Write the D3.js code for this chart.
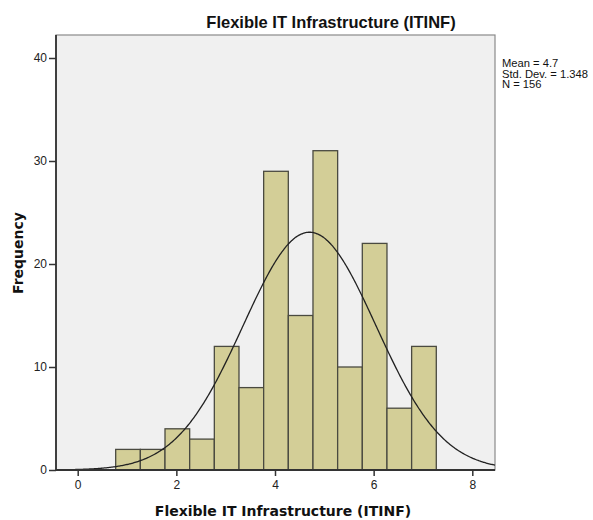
<!DOCTYPE html>
<html><head><meta charset="utf-8">
<script src="https://cdn.jsdelivr.net/npm/d3@7"></script>
<style>body{margin:0;background:#fff}</style>
</head><body>
<svg id="c" width="593" height="520"></svg>
<script>
const binStart = [0.77,1.27,1.77,2.27,2.77,3.27,3.77,4.27,4.77,5.27,5.77,6.27,6.77];
const counts = [2,2,4,3,12,8,29,15,31,10,22,6,12];
const binWidth = 0.5;
const yTicks = [0,10,20,30,40];
const xTicks = [0,2,4,6,8];
const stats = {mean:4.7, sd:1.348, n:156};
const statLabels = ["Mean = 4.7","Std. Dev. = 1.348","N = 156"];
const title = "Flexible IT Infrastructure (ITINF)";
const xTitle = "Flexible IT Infrastructure (ITINF)";
const yTitle = "Frequency";

const svg = d3.select("#c");
const L=56, R=495, T=35, B=470;
const x = d3.scaleLinear().domain([0,8]).range([77.7,472.3]);
const y = d3.scaleLinear().domain([0,40]).range([B,58]);
const font = "Arial, 'Liberation Sans', sans-serif";

svg.append("rect").attr("x",L).attr("y",T).attr("width",R-L).attr("height",B-T)
  .attr("fill","#f0f0f0").attr("stroke","#8a8a8a").attr("stroke-width",1.2);

svg.append("g").selectAll("rect").data(counts).join("rect")
  .attr("x",(d,i)=>x(binStart[i]))
  .attr("width",(d,i)=>x(binStart[i]+binWidth)-x(binStart[i]))
  .attr("y",d=>y(d)).attr("height",d=>y(0)-y(d))
  .attr("fill","#d3ce97").attr("stroke","#4a4a40").attr("stroke-width",1.3);

const xs = d3.range(x.invert(L), x.invert(R)+0.001, 0.02);
const norm = v => stats.n*binWidth/(stats.sd*Math.sqrt(2*Math.PI))*Math.exp(-0.5*((v-stats.mean)/stats.sd)**2);
svg.append("path").datum(xs)
  .attr("d", d3.line().x(v=>x(v)).y(v=>y(norm(v))).curve(d3.curveBasis))
  .attr("fill","none").attr("stroke","#222").attr("stroke-width",1.3);

svg.append("line").attr("x1",L).attr("x2",L).attr("y1",T).attr("y2",B).attr("stroke","#333").attr("stroke-width",1.8);
svg.append("line").attr("x1",L).attr("x2",R).attr("y1",B).attr("y2",B).attr("stroke","#333").attr("stroke-width",1.8);

const yAxis = d3.axisLeft(y).tickValues(yTicks).tickSize(7).tickPadding(2);
const gy = svg.append("g").attr("transform",`translate(${L},0)`).call(yAxis);
gy.select(".domain").remove();
gy.selectAll("line").attr("stroke","#333").attr("stroke-width",1.5);
gy.selectAll("text").attr("font-family",font).attr("font-size",12).attr("fill","#222");

const xAxis = d3.axisBottom(x).tickValues(xTicks).tickSize(6).tickPadding(4);
const gx = svg.append("g").attr("transform",`translate(0,${B})`).call(xAxis);
gx.select(".domain").remove();
gx.selectAll("line").attr("stroke","#333").attr("stroke-width",1.5);
gx.selectAll("text").attr("font-family",font).attr("font-size",12).attr("fill","#222");

svg.append("text").attr("x",331).attr("y",28).attr("text-anchor","middle")
  .attr("font-family",font).attr("font-weight","bold").attr("font-size",16.5).attr("fill","#111").text(title);
svg.append("text").attr("x",283).attr("y",516).attr("text-anchor","middle")
  .attr("font-family","'DejaVu Sans', sans-serif").attr("font-weight","bold").attr("font-size",14).attr("fill","#111").text(xTitle);
svg.append("text").attr("transform","translate(23,253) rotate(-90)").attr("text-anchor","middle")
  .attr("font-family","'DejaVu Sans', sans-serif").attr("font-weight","bold").attr("font-size",14).attr("fill","#111").text(yTitle);

svg.append("g").selectAll("text").data(statLabels).join("text")
  .attr("x",502).attr("y",(d,i)=>67+i*10.5)
  .attr("font-family",font).attr("font-size",11.2).attr("fill","#111").text(d=>d);
</script>
</body></html>
